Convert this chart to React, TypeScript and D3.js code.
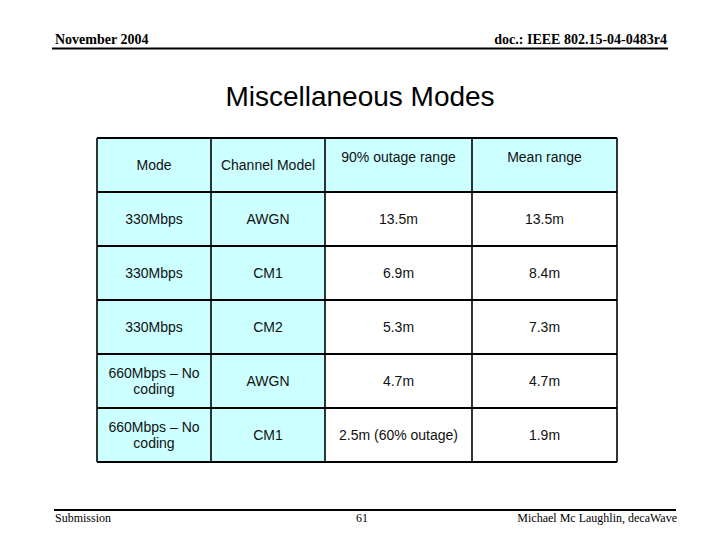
import React, { useRef, useEffect } from 'react';
import * as d3 from 'd3';

// table contents
const headers = ['Mode', 'Channel Model', '90% outage range', 'Mean range'];
const modes = ['330Mbps', '330Mbps', '330Mbps', '660Mbps – No|coding', '660Mbps – No|coding'];
const channels = ['AWGN', 'CM1', 'CM2', 'AWGN', 'CM1'];
const outageRange = ['13.5m', '6.9m', '5.3m', '4.7m', '2.5m (60% outage)'];
const meanRange = ['13.5m', '8.4m', '7.3m', '4.7m', '1.9m'];

const colWidths = [114, 114, 147, 145];

export default function App() {
  const svgRef = useRef<SVGSVGElement | null>(null);

  useEffect(() => {
    const width = 720;
    const height = 540;
    const svg = d3.select(svgRef.current).attr('width', width).attr('height', height);
    svg.selectAll('*').remove();

    svg.append('rect').attr('width', width).attr('height', height).attr('fill', '#fff');

    const serif = '"Liberation Serif", "Times New Roman", serif';
    const sans = '"Liberation Sans", Arial, sans-serif';

    // slide header
    svg.append('text').attr('x', 55).attr('y', 44).attr('font-family', serif)
      .attr('font-weight', 'bold').attr('font-size', 14).text('November 2004');
    svg.append('text').attr('x', 667).attr('y', 44).attr('text-anchor', 'end')
      .attr('font-family', serif).attr('font-weight', 'bold').attr('font-size', 14)
      .text('doc.: IEEE 802.15-04-0483r4');
    svg.append('line').attr('x1', 52).attr('x2', 668).attr('y1', 48.5).attr('y2', 48.5)
      .attr('stroke', '#000').attr('stroke-width', 2);

    svg.append('text').attr('x', 360).attr('y', 106).attr('text-anchor', 'middle')
      .attr('font-family', sans).attr('font-size', 28).text('Miscellaneous Modes');

    // footer
    svg.append('line').attr('x1', 54).attr('x2', 676).attr('y1', 510).attr('y2', 510)
      .attr('stroke', '#000').attr('stroke-width', 2);
    svg.append('text').attr('x', 55).attr('y', 522).attr('font-family', serif)
      .attr('font-size', 12).text('Submission');
    svg.append('text').attr('x', 362).attr('y', 522).attr('text-anchor', 'middle')
      .attr('font-family', serif).attr('font-size', 12).text('61');
    svg.append('text').attr('x', 677).attr('y', 522).attr('text-anchor', 'end')
      .attr('font-family', serif).attr('font-size', 12).text('Michael Mc Laughlin, decaWave');

    // table
    const left = 97;
    const edges = [left, ...Array.from(d3.cumsum(colWidths), (v) => left + v)];
    const rows = [headers, ...modes.map((m, i) => [m, channels[i], outageRange[i], meanRange[i]])];

    const y = d3.scaleBand<number>().domain(d3.range(rows.length)).range([138, 462]);

    const g = svg.append('g');

    rows.forEach((row, r) => {
      row.forEach((cell, c) => {
        const x0 = edges[c];
        const x1 = edges[c + 1];
        const y0 = y(r)!;
        const filled = r === 0 || c < 2;
        g.append('rect').attr('x', x0).attr('y', y0).attr('width', x1 - x0)
          .attr('height', y.bandwidth()).attr('fill', filled ? '#ccffff' : '#ffffff');

        const lines = cell.split('|');
        const cx = (x0 + x1) / 2;
        let cy = y0 + y.bandwidth() / 2 + 5;
        if (r === 0 && c >= 2) cy -= 8;
        const lh = 16;
        const t = g.append('text').attr('text-anchor', 'middle').attr('font-family', sans)
          .attr('font-size', 14).attr('fill', '#111');
        lines.forEach((ln, k) => {
          t.append('tspan').attr('x', cx)
            .attr('y', cy + (k - (lines.length - 1) / 2) * lh).text(ln);
        });
      });
    });

    // grid lines
    edges.forEach((ex) => {
      g.append('line').attr('x1', ex).attr('x2', ex).attr('y1', 138).attr('y2', 462)
        .attr('stroke', '#000').attr('stroke-width', 1.6);
    });
    d3.range(rows.length + 1).forEach((i) => {
      const yy = i < rows.length ? y(i)! : 462;
      g.append('line').attr('x1', left).attr('x2', edges[edges.length - 1])
        .attr('y1', yy).attr('y2', yy).attr('stroke', '#000').attr('stroke-width', 1.8);
    });
  }, []);

  return (
    <div style={{ margin: -8 }}>
      <svg ref={svgRef} style={{ display: 'block' }} />
    </div>
  );
}
